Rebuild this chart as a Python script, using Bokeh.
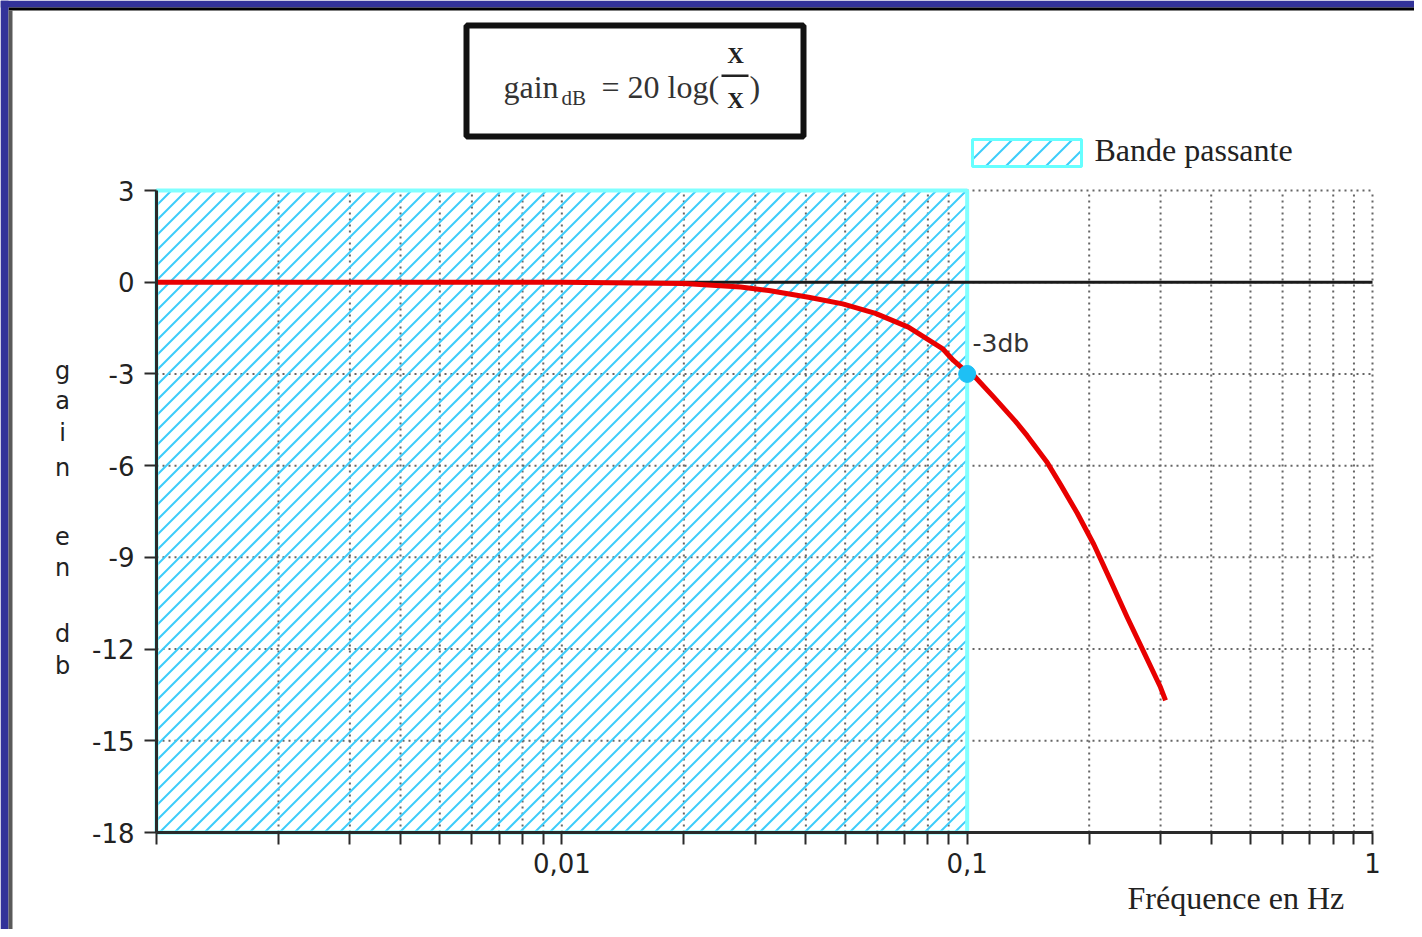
import math
from bokeh.plotting import figure
from bokeh.models import Range1d, FixedTicker, Label
from bokeh.embed import file_html
from bokeh.resources import INLINE

# ---- data ----
freq_hz = [0.001, 0.005, 0.01, 0.02, 0.0276, 0.0324, 0.0406, 0.0493, 0.0594,
           0.0716, 0.0869, 0.0925, 0.1, 0.1038, 0.1163, 0.1316, 0.1406, 0.1576,
           0.170, 0.1868, 0.2054, 0.2258, 0.2482, 0.2728, 0.2999, 0.3086]
gain_db = [0, 0, 0, -0.04, -0.16, -0.27, -0.49, -0.71, -1.02,
           -1.47, -2.17, -2.56, -2.95, -3.05, -3.76, -4.55, -5.02, -5.90,
           -6.62, -7.55, -8.58, -9.76, -10.96, -12.1, -13.25, -13.68]
decades = [0.001, 0.01, 0.1, 1.0]
decade_labels = ["", "0,01", "0,1", "1"]
minor_mult = [2, 3, 4, 5, 6, 7, 8, 9]
gain_ticks = [3, 0, -3, -6, -9, -12, -15, -18]
gain_labels = ["3", "0", "-3", "-6", "-9", "-12", "-15", "-18"]
band_start, band_end = 0.001, 0.1
cutoff_freq, cutoff_gain = 0.1, -3
cutoff_text = "-3db"
ylabel_letters = ["g", "a", "i", "n", "e", "n", "d", "b"]
legend_text = "Bande passante"
xlabel_text = "Fréquence en Hz"

# ---- page geometry (pixels) : plot area inside the canvas ----
W, H = 1414, 929
FL, FR, FT, FB = 156, 1372, 190, 832
LOG0, NDEC = math.log10(decades[0]), math.log10(decades[-1] / decades[0])
YTOP, YBOT = gain_ticks[0], gain_ticks[-1]

def px_x(ix):   # page pixel -> data x
    return 10 ** (LOG0 + NDEC * (ix - FL) / (FR - FL))
def px_y(iy):   # page pixel -> data y
    return YTOP - (YTOP - YBOT) * (iy - FT) / (FB - FT)
def to_px_x(x):
    return FL + (FR - FL) * (math.log10(x) - LOG0) / NDEC
def to_px_y(y):
    return FT + (FB - FT) * (YTOP - y) / (YTOP - YBOT)

p = figure(width=W, height=H, x_axis_type="log",
           x_range=Range1d(px_x(0), px_x(W)), y_range=Range1d(px_y(H), px_y(0)),
           output_backend="svg", toolbar_location=None,
           min_border_left=0, min_border_right=0, min_border_top=0, min_border_bottom=0)
p.outline_line_color = None
p.background_fill_color = "white"
p.border_fill_color = "white"
p.xgrid.grid_line_color = None
p.ygrid.grid_line_color = None

def hatch(l, r, t, b, spacing):
    """45 degree hatch lines inside pixel box -> data coordinates"""
    w, h = r - l, b - t
    x0s, y0s, x1s, y1s = [], [], [], []
    c = -h
    while c < w:
        u0 = max(c, 0.0); v0 = u0 - c
        v1 = min(h, w - c); u1 = v1 + c
        if v1 > v0:
            x0s.append(px_x(l + u0)); y0s.append(px_y(b - v0))
            x1s.append(px_x(l + u1)); y1s.append(px_y(b - v1))
        c += spacing
    return x0s, y0s, x1s, y1s

def label(ix, iy, text, font, size, color="#222222", align="left", baseline="middle",
          style="normal"):
    p.add_layout(Label(x=px_x(ix), y=px_y(iy), text=text, text_font=font,
                       text_font_size=size, text_color=color, text_font_style=style,
                       text_align=align, text_baseline=baseline))

# ---- frame border of the original picture ----
p.quad(left=px_x(0), right=px_x(W), top=px_y(0), bottom=px_y(7), fill_color="#333399", line_color=None)
p.quad(left=px_x(8), right=px_x(W), top=px_y(7), bottom=px_y(10), fill_color="#000000", line_color=None)
p.quad(left=px_x(0), right=px_x(8), top=px_y(0), bottom=px_y(H), fill_color="#333399", line_color=None)
p.quad(left=px_x(8), right=px_x(12), top=px_y(10), bottom=px_y(H), fill_color="#5a5a5a", line_color=None)

# ---- grid (dotted) ----
minors = [d * m for d in decades[:-1] for m in minor_mult]
vlines = sorted(decades + minors)
p.segment(x0=vlines, y0=[YBOT] * len(vlines), x1=vlines, y1=[YTOP] * len(vlines),
          line_color="#666666", line_width=2, line_dash="2 4")
p.segment(x0=[decades[0]] * len(gain_ticks), y0=gain_ticks,
          x1=[decades[-1]] * len(gain_ticks), y1=gain_ticks,
          line_color="#666666", line_width=2, line_dash="2 4")

# ---- pass band (hatched) ----
hx0, hy0, hx1, hy1 = hatch(to_px_x(band_start), to_px_x(band_end),
                           to_px_y(YTOP), to_px_y(YBOT), 15)
p.segment(x0=hx0, y0=hy0, x1=hx1, y1=hy1, line_color="#3cccfa", line_width=2)
p.quad(left=band_start, right=band_end, bottom=YBOT, top=YTOP,
       fill_alpha=0, line_color="#80ffff", line_width=4)

# ---- axes ----
p.xaxis.ticker = FixedTicker(ticks=decades, minor_ticks=minors)
p.xaxis.major_label_overrides = {d: lab for d, lab in zip(decades, decade_labels)}
p.xaxis.fixed_location = YBOT
p.xaxis.bounds = (decades[0], decades[-1])
p.yaxis.ticker = FixedTicker(ticks=gain_ticks)
p.yaxis.major_label_overrides = {t: lab for t, lab in zip(gain_ticks, gain_labels)}
p.yaxis.fixed_location = decades[0]
p.yaxis.bounds = (YBOT, YTOP)
for ax in (p.xaxis[0], p.yaxis[0]):
    ax.axis_line_color = "#2a2a2a"
    ax.axis_line_width = 3
    ax.major_tick_out = 12
    ax.major_tick_in = 0
    ax.minor_tick_out = 12
    ax.minor_tick_in = 0
    ax.major_tick_line_color = "#2a2a2a"
    ax.minor_tick_line_color = "#2a2a2a"
    ax.major_tick_line_width = 2
    ax.minor_tick_line_width = 2
    ax.major_label_text_font = "DejaVu Sans"
    ax.major_label_text_font_size = "26px"
    ax.major_label_text_color = "#222222"
p.yaxis.minor_tick_line_color = None
p.xaxis.major_label_standoff = 8
p.yaxis.major_label_standoff = 10

# ---- 0 dB line ----
p.line(x=[decades[0], decades[-1]], y=[0, 0], line_color="#1a1a1a", line_width=3)

# ---- gain curve ----
p.line(freq_hz, gain_db, line_color="#e80000", line_width=5, line_join="round")
p.scatter([cutoff_freq], [cutoff_gain], size=17, color="#1ec0f5")
label(972, 343, cutoff_text, "DejaVu Sans", "25px", color="#333333")

# ---- y label: stacked letters ----
ylet_pos = [370, 400, 432, 467, 535, 567, 633, 665]
for letter, iy in zip(ylabel_letters, ylet_pos):
    label(62, iy, letter, "DejaVu Sans", "24px", align="center")

# ---- x label ----
label(1127, 897, xlabel_text, "Liberation Serif", "32px")

# ---- legend ----
lx0, ly0, lx1, ly1 = hatch(972, 1081, 139, 166, 20)
p.segment(x0=lx0, y0=ly0, x1=lx1, y1=ly1, line_color="#3cccfa", line_width=2)
p.quad(left=px_x(972), right=px_x(1081), top=px_y(139), bottom=px_y(166),
       fill_alpha=0, line_color="#66ffff", line_width=3)
label(1094, 149, legend_text, "Liberation Serif", "32px")

# ---- formula box ----
p.quad(left=px_x(466), right=px_x(803), top=px_y(25), bottom=px_y(136),
       fill_color="white", line_color="#111111", line_width=6)
serif = "Liberation Serif"
label(503, 86, "gain", serif, "32px", color="#333333", baseline="alphabetic")
label(561, 97, "dB", serif, "21px", color="#333333", baseline="alphabetic")
label(601, 86, "= 20 log(", serif, "32px", color="#333333", baseline="alphabetic")
label(735, 55, "X", serif, "23px", align="center", style="bold")
p.quad(left=px_x(721), right=px_x(748), top=px_y(74), bottom=px_y(76.5),
       fill_color="#222222", line_color=None)
label(735, 100, "X", serif, "23px", align="center", style="bold")
label(749, 86, ")", serif, "32px", color="#333333", baseline="alphabetic")

open("out.html", "w").write(file_html(p, INLINE))
